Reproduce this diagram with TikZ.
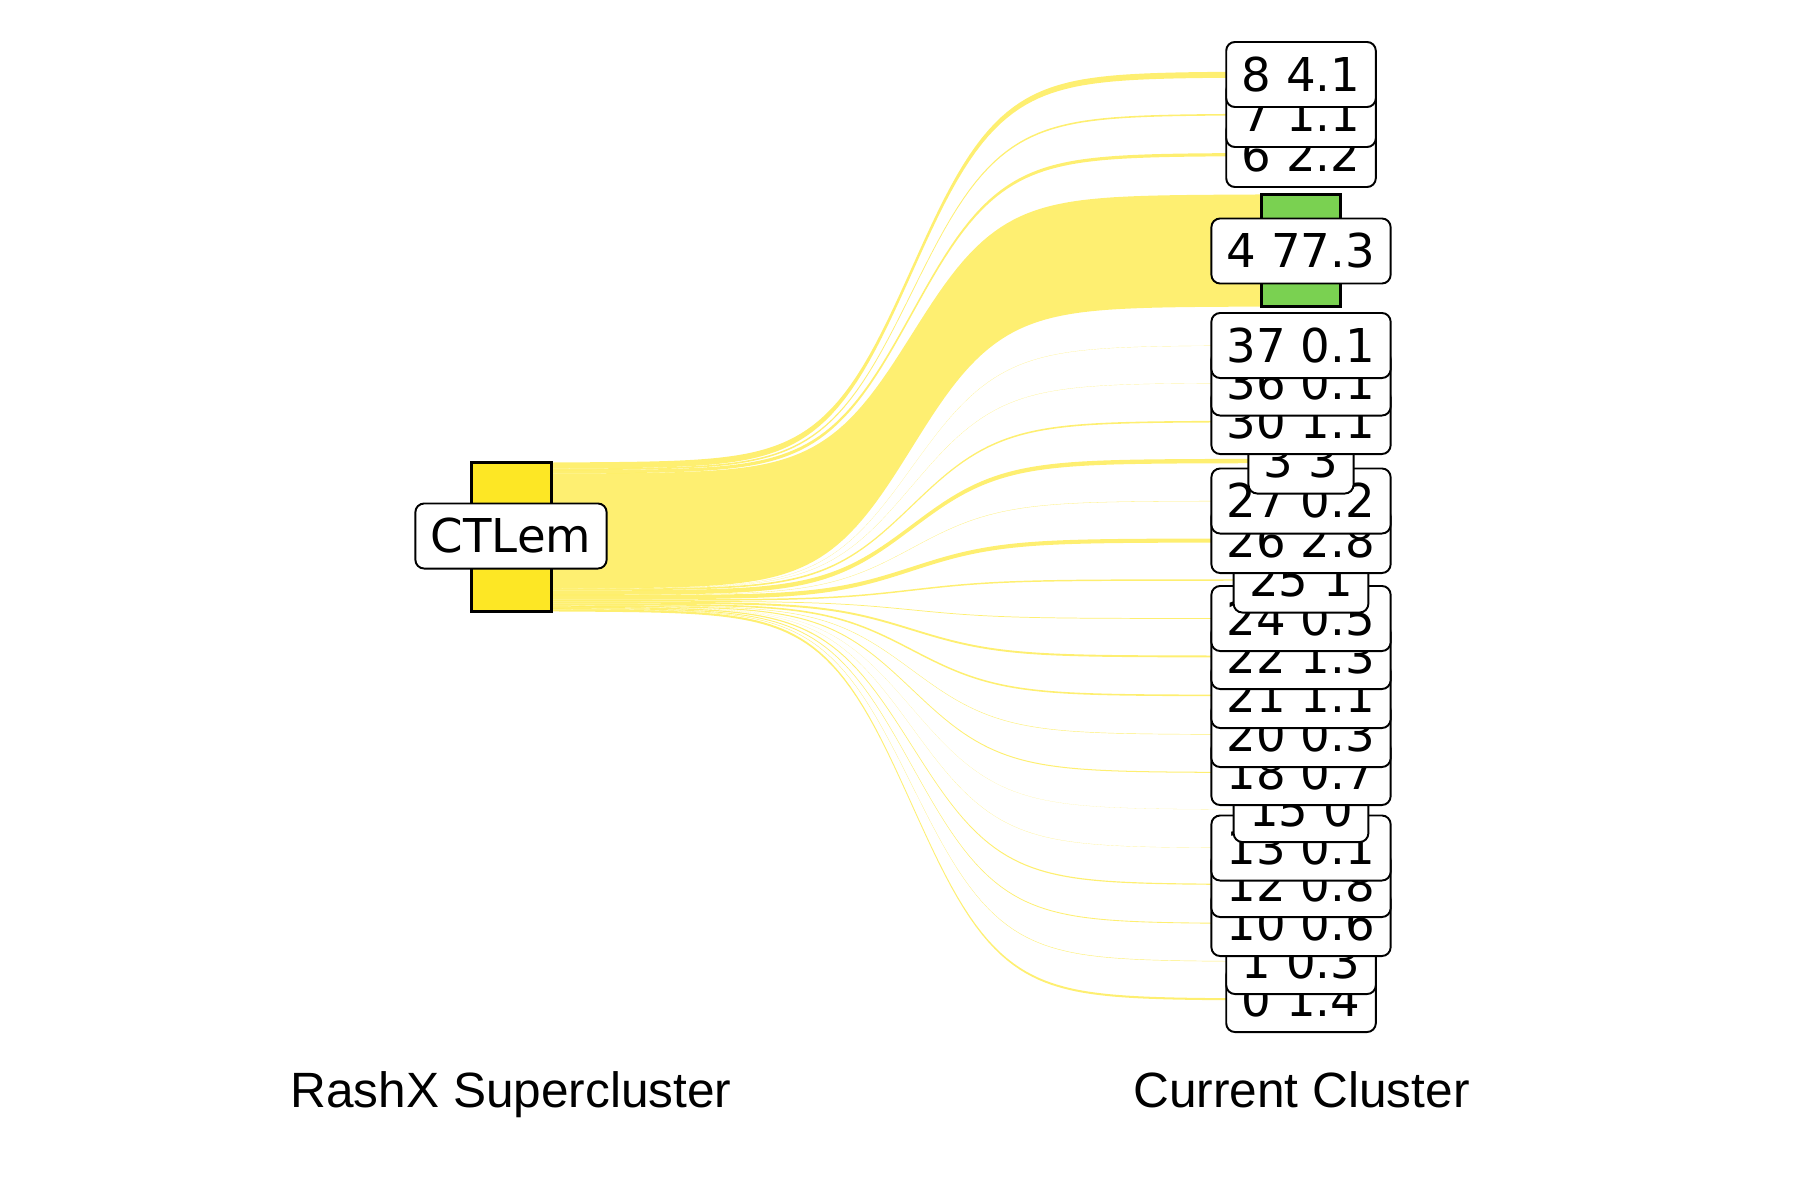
\documentclass[tikz,border=0pt]{standalone}
\usepackage{fontspec}
\setmainfont{DejaVu Sans}
\newfontfamily\arialfont{Liberation Sans}
\definecolor{vyel}{HTML}{FDE725}
\definecolor{vgreen}{HTML}{7AD151}
\newcommand\flowband[4]{%
 \pgfmathsetmacro\fyA{462.5+#1*1.488}%
 \pgfmathsetmacro\fyB{462.5+#2*1.488}%
 \pgfmathsetmacro\fyC{#3-#4*0.725}%
 \pgfmathsetmacro\fyD{#3+#4*0.725}%
 \fill[flowfill] (553,\fyA) -- plot[domain=600:1220,samples=100] (\x,{\fyA+(\fyC-\fyA)/(1+exp(-(\x-912)/44))}) -- (1262,\fyC) -- (1262,\fyD) -- plot[domain=1220:600,samples=100] (\x,{\fyB+(\fyD-\fyB)/(1+exp(-(\x-912)/44))}) -- (553,\fyB) -- cycle;}
\begin{document}
\begin{tikzpicture}[x=0.01cm,y=-0.01cm,
  flowfill/.style={fill=vyel,fill opacity=0.65},
  barbox/.style={draw=black,line width=0.85pt},
  lbl/.style={draw=black,line width=0.55pt,fill=white,rounded corners=2.5pt,
    inner xsep=4.4pt,inner ysep=0pt,minimum height=18.5pt,
    font=\fontsize{13.26}{16}\selectfont},
  axlbl/.style={anchor=base,inner sep=0pt,font=\arialfont\fontsize{14.1}{16}\selectfont}]
\useasboundingbox (0,0) rectangle (1800,1200);
% flows
\flowband{0}{4.1}{74.5}{4.1}
\flowband{4.1}{5.2}{114.5}{1.1}
\flowband{5.2}{7.4}{154.5}{2.2}
\flowband{7.4}{84.7}{250.5}{77.3}
\flowband{84.7}{84.8}{345.5}{0.1}
\flowband{84.8}{84.9}{383}{0.1}
\flowband{84.9}{86.0}{421.5}{1.1}
\flowband{86.0}{89.0}{461}{3}
\flowband{89.0}{89.2}{501}{0.2}
\flowband{89.2}{92.0}{540.5}{2.8}
\flowband{92.0}{93.0}{580}{1}
\flowband{93.0}{93.5}{618.5}{0.5}
\flowband{93.5}{94.8}{656.5}{1.3}
\flowband{94.8}{95.9}{695.5}{1.1}
\flowband{95.9}{96.2}{734.5}{0.3}
\flowband{96.2}{96.9}{772.5}{0.7}
\flowband{96.9}{96.93}{809.5}{0.03}
\flowband{96.93}{97.0}{848}{0.1}
\flowband{97.0}{97.8}{884.5}{0.8}
\flowband{97.8}{98.4}{923.5}{0.6}
\flowband{98.4}{98.7}{961.5}{0.3}
\flowband{98.7}{100.1}{999.5}{1.4}
% bars
\draw[barbox,fill=vyel] (471.5,462.5) rectangle (551.5,611.5);
\draw[barbox,fill=vgreen] (1261.5,194.5) rectangle (1340.5,306.5);
% labels
\node[lbl] (ctlem) at (511,536) {CTLem};
\node[lbl] (n0) at (1301,999.5) {0 1.4};
\node[lbl] (n1) at (1301,961.5) {1 0.3};
\node[lbl] (n10) at (1301,923.5) {10 0.6};
\node[lbl] (n12) at (1301,884.5) {12 0.8};
\node[lbl] (n13) at (1301,848) {13 0.1};
\node[lbl] (n15) at (1301,809.5) {15 0};
\node[lbl] (n18) at (1301,772.5) {18 0.7};
\node[lbl] (n20) at (1301,734.5) {20 0.3};
\node[lbl] (n21) at (1301,695.5) {21 1.1};
\node[lbl] (n22) at (1301,656.5) {22 1.3};
\node[lbl] (n24) at (1301,618.5) {24 0.5};
\node[lbl] (n25) at (1301,580) {25 1};
\node[lbl] (n26) at (1301,540.5) {26 2.8};
\node[lbl] (n27) at (1301,501) {27 0.2};
\node[lbl] (n3) at (1301,461) {3 3};
\node[lbl] (n30) at (1301,421.5) {30 1.1};
\node[lbl] (n36) at (1301,383) {36 0.1};
\node[lbl] (n37) at (1301,345.5) {37 0.1};
\node[lbl] (n4) at (1301,251) {4 77.3};
\node[lbl] (n6) at (1301,154.5) {6 2.2};
\node[lbl] (n7) at (1301,114.5) {7 1.1};
\node[lbl] (n8) at (1301,74.5) {8 4.1};
% axis titles
\node[axlbl] (tleft) at (511,1107) {RashX Supercluster};
\node[axlbl] (tright) at (1301.5,1107) {Current Cluster};
\end{tikzpicture}
\end{document}
